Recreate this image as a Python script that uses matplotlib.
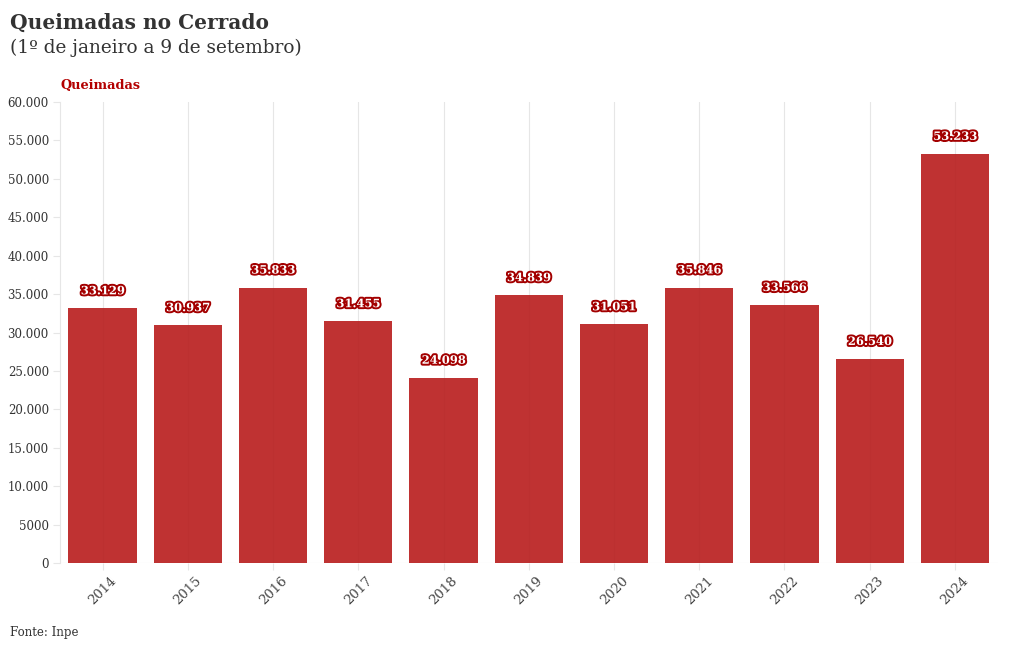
import matplotlib.pyplot as plt
import matplotlib.patheffects as pe
import numpy as np

years = ["2014", "2015", "2016", "2017", "2018", "2019", "2020", "2021", "2022", "2023", "2024"]
fires = [33129, 30937, 35833, 31455, 24098, 34839, 31051, 35846, 33566, 26540, 53233]
value_labels = ["33.129", "30.937", "35.833", "31.455", "24.098", "34.839",
                "31.051", "35.846", "33.566", "26.540", "53.233"]
y_ticks = [0, 5000, 10000, 15000, 20000, 25000, 30000, 35000, 40000, 45000, 50000, 55000, 60000]
y_tick_labels = ["0", "5000", "10.000", "15.000", "20.000", "25.000", "30.000",
                 "35.000", "40.000", "45.000", "50.000", "55.000", "60.000"]

plt.rcParams["font.family"] = ["DejaVu Serif"]

fig = plt.figure(figsize=(10.2, 6.5), dpi=100)
ax = fig.add_axes([0.0588, 0.1338, 0.9192, 0.7092])

x = np.arange(len(years))
ax.bar(x, fires, width=0.8, color="#b81c1c", alpha=0.9, zorder=2)

for xi, v, lab in zip(x, fires, value_labels):
    ax.text(xi, v + 2300, lab, ha="center", va="center", fontsize=8.3,
            fontweight="bold", color="white", zorder=4,
            path_effects=[pe.withStroke(linewidth=2.8, foreground="#a30000")])

ax.set_xlim(-0.5, 10.5)
ax.set_ylim(0, 60000)
ax.set_xticks(x)
ax.set_xticklabels(years, rotation=45, fontsize=9.5, color="#444444")
ax.set_yticks(y_ticks)
ax.set_yticklabels(y_tick_labels, fontsize=8.5, color="#333333")
ax.tick_params(axis="both", length=5, color="#e6e6e6", width=0.8, pad=3)

ax.grid(axis="x", color="#e6e6e6", linewidth=0.8, zorder=0)
ax.axhline(0, color="#e6e6e6", linewidth=0.8, zorder=1)
for side in ["top", "right", "bottom"]:
    ax.spines[side].set_visible(False)
ax.spines["left"].set_color("#e6e6e6")
ax.spines["left"].set_linewidth(0.8)

fig.text(0.0098, 0.965, "Queimadas no Cerrado", fontsize=14.5, fontweight="bold",
         color="#333333", va="center")
fig.text(0.0098, 0.927, "(1º de janeiro a 9 de setembro)", fontsize=13.3,
         color="#333333", va="center")
fig.text(0.0598, 0.869, "Queimadas", fontsize=9.3, fontweight="bold",
         color="#b30000", va="center")
fig.text(0.0098, 0.027, "Fonte: Inpe", fontsize=8.5, color="#333333", va="center")

fig.savefig("out.png", dpi=100)
